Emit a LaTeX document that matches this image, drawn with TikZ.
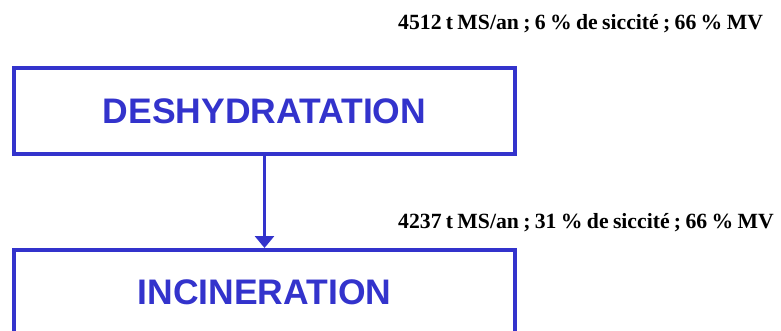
\documentclass[tikz,border=0pt]{standalone}
\usepackage{fontspec}
\setmainfont{Liberation Serif}
\newfontfamily\boxfont{Liberation Sans}
\usetikzlibrary{arrows.meta}
\definecolor{procblue}{HTML}{3333CC}
\newcommand\tightspacing{\spaceskip=0.2em\relax}
\tikzset{
  procbox/.style={draw=procblue, line width=4pt, minimum width=501pt, inner sep=0pt,
    text=procblue, font=\boxfont\bfseries\fontsize{35.5}{40}\selectfont},
  flowlabel/.style={anchor=base west, inner sep=0pt, font=\bfseries\fontsize{21.7}{26}\selectfont\tightspacing},
  flowarrow/.style={draw=procblue, line width=3pt, -{Triangle[width=19pt,length=12pt]}, procblue}
}
\begin{document}
\begin{tikzpicture}[x=1pt,y=-1pt]
\useasboundingbox (0,0) rectangle (781,331);
\clip (0,0) rectangle (781,331);
\node[procbox, minimum height=86pt] (deshy) at (264.5,111) {DESHYDRATATION};
\node[procbox, minimum height=85pt] (incin) at (264.5,292.5) {INCINERATION};
\node[flowlabel] (l1) at (398,30) {4512 t MS/an ; 6 \% de siccité ; 66 \% MV};
\node[flowlabel] (l2) at (398,228) {4237 t MS/an ; 31 \% de siccité ; 66 \% MV};
\draw[flowarrow] (deshy.south) -- (incin.north);
\end{tikzpicture}
\end{document}
